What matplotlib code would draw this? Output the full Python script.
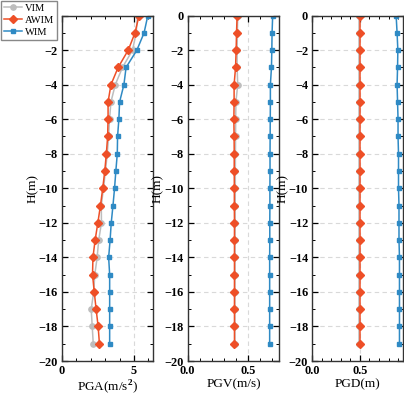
"""Profiles of PGA, PGV and PGD versus depth for three intensity measures."""

import matplotlib.pyplot as plt
from matplotlib.ticker import MultipleLocator

depth = [0, -1, -2, -3, -4, -5, -6, -7, -8, -9, -10, -11, -12, -13, -14, -15, -16, -17, -18, -19]

pga_vim = [5.25, 5.15, 4.9, 4.2, 3.7, 3.4, 3.3, 3.24, 3.14, 3.02, 2.88, 2.73, 2.74, 2.55, 2.44, 2.28, 2.2, 2.03, 2.1, 2.17]
pga_awim = [5.35, 5.07, 4.6, 3.9, 3.4, 3.2, 3.2, 3.17, 3.08, 2.97, 2.83, 2.67, 2.49, 2.3, 2.15, 2.12, 2.24, 2.37, 2.51, 2.6]
pga_wim = [5.96, 5.7, 5.2, 4.45, 4.3, 4.0, 3.95, 3.86, 3.84, 3.74, 3.65, 3.54, 3.42, 3.34, 3.24, 3.31, 3.31, 3.31, 3.31, 3.31]

pgv_vim = [0.415, 0.412, 0.41, 0.41, 0.415, 0.40, 0.398, 0.397, 0.396, 0.395, 0.395, 0.394, 0.394, 0.393, 0.393, 0.393, 0.392, 0.392, 0.392, 0.392]
pgv_awim = [0.41, 0.405, 0.402, 0.397, 0.385, 0.385, 0.383, 0.385, 0.386, 0.386, 0.387, 0.387, 0.388, 0.388, 0.388, 0.388, 0.388, 0.388, 0.388, 0.388]
pgv_wim = [0.705, 0.70, 0.698, 0.695, 0.686, 0.686, 0.685, 0.684, 0.683, 0.683, 0.682, 0.682, 0.681, 0.681, 0.68, 0.68, 0.68, 0.68, 0.68, 0.68]

pgd_vim = [0.495, 0.495, 0.495, 0.495, 0.495, 0.495, 0.495, 0.495, 0.495, 0.495, 0.495, 0.495, 0.495, 0.495, 0.495, 0.495, 0.495, 0.495, 0.495, 0.495]
pgd_awim = [0.5, 0.5, 0.5, 0.5, 0.5, 0.5, 0.5, 0.5, 0.5, 0.5, 0.5, 0.5, 0.5, 0.5, 0.5, 0.5, 0.5, 0.5, 0.5, 0.5]
pgd_wim = [0.88, 0.89, 0.898, 0.895, 0.89, 0.895, 0.9, 0.9, 0.905, 0.905, 0.905, 0.91, 0.91, 0.91, 0.915, 0.915, 0.915, 0.915, 0.915, 0.915]

x_labels = ["PGA(m/s$^2$)", "PGV(m/s)", "PGD(m)"]
x_limits = [(0, 6.3), (0, 0.76), (0, 0.95)]
x_major = [5, 0.5, 0.5]
x_minor = [1, 0.1, 0.1]

# tick labels are bold Times-like, everything else regular
plt.rcParams["font.family"] = ["Liberation Serif", "DejaVu Serif"]
plt.rcParams["font.weight"] = "bold"
plt.rcParams["mathtext.fontset"] = "custom"
plt.rcParams["mathtext.rm"] = "Liberation Serif"

color_vim = "#bdbdbd"
color_awim = "#ee4f27"
color_wim = "#2f8ac4"

fig = plt.figure(figsize=(4.04, 3.95), dpi=100)
lefts = [62 / 404, 187.7 / 404, 312.3 / 404]
widths = [90.7 / 404, 91.6 / 404, 90.5 / 404]
bottom = 1 - 361 / 395
height = (361 - 15.6) / 395

series = [
    (pga_vim, pga_awim, pga_wim),
    (pgv_vim, pgv_awim, pgv_wim),
    (pgd_vim, pgd_awim, pgd_wim),
]

axes = []
handles = None
for i, (vim, awim, wim) in enumerate(series):
    ax = fig.add_axes([lefts[i], bottom, widths[i], height])
    axes.append(ax)
    h1, = ax.plot(vim, depth, color=color_vim, marker="o", markersize=3.8, linewidth=1.1, label="VIM")
    h2, = ax.plot(awim, depth, color=color_awim, marker="D", markersize=3.6, linewidth=1.1, label="AWIM")
    h3, = ax.plot(wim, depth, color=color_wim, marker="s", markersize=3.4, linewidth=1.1, label="WIM")
    if handles is None:
        handles = [h1, h2, h3]

    ax.set_xlim(*x_limits[i])
    ax.set_ylim(-20, 0)
    ax.xaxis.set_major_locator(MultipleLocator(x_major[i]))
    ax.xaxis.set_minor_locator(MultipleLocator(x_minor[i]))
    ax.yaxis.set_major_locator(MultipleLocator(2))
    ax.yaxis.set_minor_locator(MultipleLocator(1))
    ax.grid(True, which="major", linestyle=(0, (4, 3)), color="#d9d9d9", linewidth=0.8)
    ax.set_axisbelow(True)
    ax.tick_params(which="both", direction="in", top=True, right=True, labelsize=8.8, pad=3)
    ax.tick_params(which="major", length=4, width=0.9)
    ax.tick_params(which="minor", length=2, width=0.7)
    for sp in ax.spines.values():
        sp.set_linewidth(1.0)
        sp.set_color("#333333")
    ax.set_xlabel(x_labels[i], fontsize=9.5, fontweight="normal", labelpad=1)
    ax.set_ylabel("H(m)", fontsize=9.5, fontweight="normal", labelpad=0)

fig.legend(handles, ["VIM", "AWIM", "WIM"], loc="upper left", bbox_to_anchor=(0.0, 1.0),
           prop={"size": 7.6, "weight": "normal"}, frameon=True, fancybox=False,
           edgecolor="#888888", framealpha=1, handlelength=1.7, handletextpad=0.3,
           borderpad=0.25, labelspacing=0.25, borderaxespad=0.1)

# make sure the tick labels really come out bold
fig.canvas.draw()
for ax in axes:
    plt.setp(ax.get_xticklabels() + ax.get_yticklabels(), fontweight="bold")

fig.savefig("out.png", dpi=100)
